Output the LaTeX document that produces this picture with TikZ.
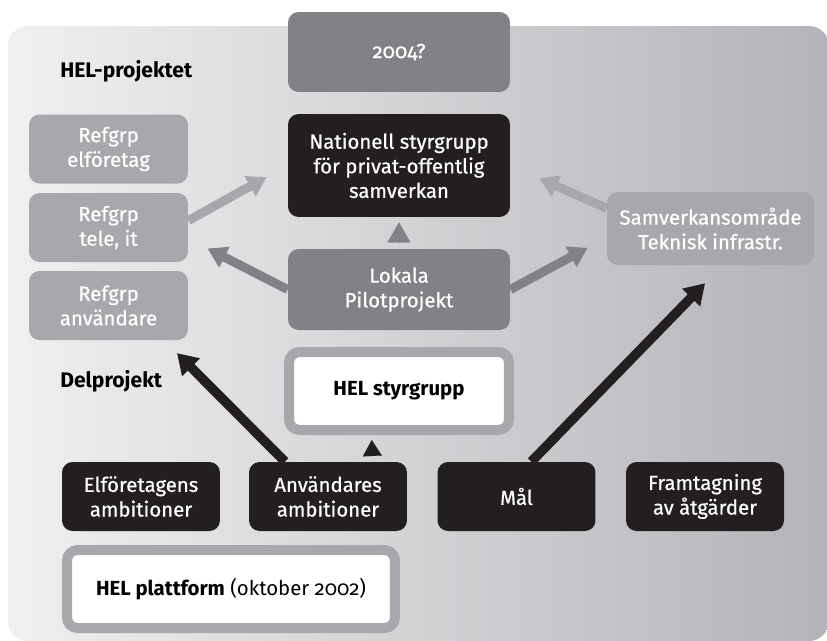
\documentclass[tikz,border=0pt]{standalone}
\usepackage{fontspec}
\setmainfont{Fira Sans}[Numbers=OldStyle]
\newfontfamily\boxfont{Fira Sans}[Numbers=OldStyle,FakeBold=0.6]
\usetikzlibrary{arrows.meta}

\definecolor{helblack}{HTML}{231F20}
\definecolor{heldark}{HTML}{818286}
\definecolor{hellight}{HTML}{A7A8AB}
\definecolor{bgleft}{HTML}{F0F0F1}
\definecolor{bgright}{HTML}{B3B4B8}

\begin{document}
\begin{tikzpicture}[x=0.02cm,y=-0.02cm,
    box/.style={rectangle,rounded corners=6pt,align=center,text=white,inner sep=0pt,
      font=\fontsize{11.6}{14}\selectfont\boxfont},
    darkbox/.style={box,fill=heldark,minimum width=4.44cm},
    lightbox/.style={box,fill=hellight,minimum height=1.38cm},
    blackbox/.style={box,fill=helblack,minimum width=3.16cm,minimum height=1.38cm},
    framebox/.style={box,fill=white,draw=hellight,line width=0.2cm,text=black,
      minimum height=1.56cm,font=\fontsize{11.6}{14}\selectfont},
    heading/.style={anchor=base west,inner sep=0pt,font=\fontsize{12}{14}\selectfont\bfseries},
    lightarrow/.style={draw=hellight,line width=0.18cm,-{Triangle[length=0.38cm,width=0.44cm]}},
    darkarrow/.style={lightarrow,draw=heldark},
    blackarrow/.style={draw=helblack,line width=0.19cm,-{Triangle[length=0.4cm,width=0.48cm]}},
    greytip/.style={draw=heldark,line width=0.1pt,shorten <=0.14cm,shorten >=0.1cm,
      -{Triangle[length=0.4cm,width=0.46cm]}},
    blacktip/.style={draw=helblack,line width=0.1pt,shorten <=0.12cm,shorten >=0.1cm,
      -{Triangle[length=0.32cm,width=0.38cm]}}]

      \useasboundingbox (0,0) rectangle (827,640);
      \shade[rounded corners=0.4cm,left color=bgleft,right color=bgright] (8,26) rectangle (829,641);

      \begin{scope}[every node/.style={darkbox}]
        \node[fill=heldark,minimum height=1.6cm]  (year)   at (399,52)    {2004?};
        \node[fill=helblack,minimum height=2.06cm] (nat)   at (399,165.5) {Nationell styrgrupp\\för privat-offentlig\\samverkan};
        \node[minimum height=1.62cm]               (lokala) at (399,289.5) {Lokala\\Pilotprojekt};
      \end{scope}

      \begin{scope}[every node/.style={lightbox,minimum width=3.18cm}]
        \node (refel)   at (108.5,149)   {Refgrp\\elföretag};
        \node (reftele) at (108.5,227.5) {Refgrp\\tele, it};
        \node (refanv)  at (108.5,305.5) {Refgrp\\användare};
        \node[minimum width=4.14cm,minimum height=1.46cm] (samv) at (710.5,228.5) {Samverkansområde\\Teknisk infrastr.};
      \end{scope}

      \begin{scope}[every node/.style={blackbox}]
        \node (elamb) at (141,496.5)   {Elföretagens\\ambitioner};
        \node (users) at (328,496.5)   {Användares\\ambitioner};
        \node (mal)   at (516.5,496.5) {Mål};
        \node (atg)   at (705,496.5)   {Framtagning\\av åtgärder};
      \end{scope}

      \node[framebox,minimum width=4.4cm]  (styr)  at (399,391) {\bfseries HEL styrgrupp};
      \node[framebox,minimum width=6.56cm] (platt) at (231,589) {{\bfseries HEL plattform} (oktober 2002)};

      \node[heading] (proj) at (60,77)  {HEL-projektet};
      \node[heading] (delp) at (60,387) {Delprojekt};

      \begin{scope}[every edge/.style={draw}]
        \path (reftele.5)  edge[lightarrow,shorten >=0.48cm] (nat.west);
        \path (samv.169)   edge[lightarrow,shorten >=0.63cm] (nat.east);
        \path (lokala.west) edge[darkarrow,shorten >=0.43cm] (reftele.-8);
        \path (lokala.east) edge[darkarrow,shorten >=0.43cm] (samv.185);
        \path (users.141)  edge[blackarrow,shorten >=0.36cm] (refanv.328);
        \path (mal.67)     edge[blackarrow,shorten >=0.5cm]  (samv.288);
        \path (lokala.north) edge[greytip] (nat.south);
        \path (users.38)   edge[blacktip] (styr.238);
      \end{scope}

    \end{tikzpicture}
\end{document}
